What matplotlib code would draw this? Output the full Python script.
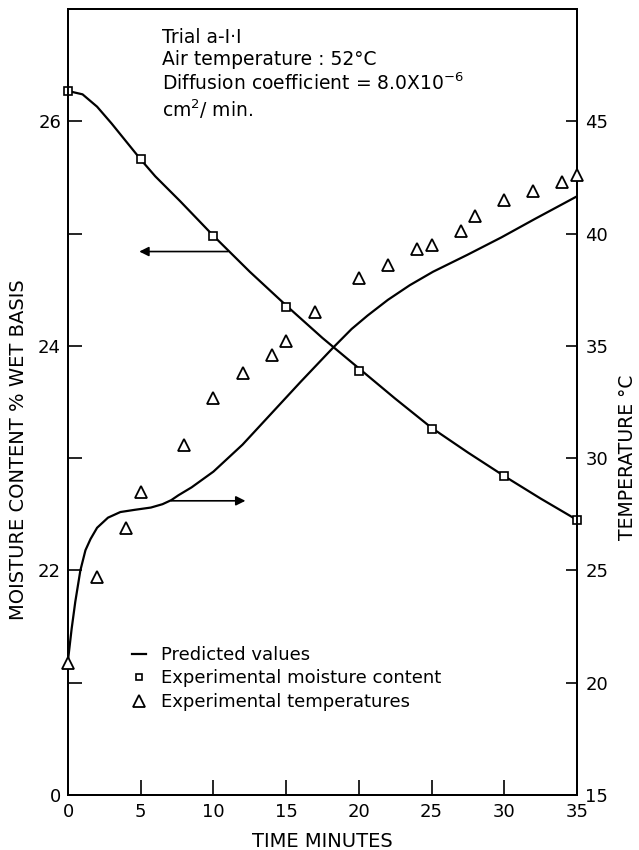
import matplotlib
matplotlib.use("Agg")
import matplotlib.pyplot as plt
from matplotlib.lines import Line2D

plt.rcParams['font.family'] = ['DejaVu Sans']

# Experimental moisture content (% wet basis) vs time (min)
moist_time = [0, 5, 10, 15, 20, 25, 30, 35]
moist_exp = [26.27, 25.66, 24.98, 24.35, 23.78, 23.26, 22.84, 22.45]

# Experimental temperatures (deg C) vs time (min)
temp_time = [0, 2, 4, 5, 8, 10, 12, 14, 15, 17, 20, 22, 24, 25, 27, 28, 30, 32, 34, 35]
temp_exp = [20.9, 24.7, 26.9, 28.5, 30.6, 32.7, 33.8, 34.6, 35.2, 36.5,
            38.0, 38.6, 39.3, 39.5, 40.1, 40.8, 41.5, 41.9, 42.3, 42.6]

# Predicted moisture content curve
pred_m_time = [0, 1, 2, 3, 4, 5, 6, 7.7, 10, 12.5, 15, 17.5, 20, 22.5,
               25, 27.5, 30, 32.5, 35]
pred_m = [26.27, 26.24, 26.13, 25.98, 25.82, 25.66, 25.51, 25.29, 24.98, 24.66,
          24.36, 24.07, 23.80, 23.53, 23.27, 23.05, 22.84, 22.64, 22.45]

# Predicted temperature curve
pred_t_time = [0, 0.25, 0.5, 0.85, 1.2, 1.55, 2.0, 2.75, 3.6, 4.6, 5.7, 6.5, 7.1,
               7.6, 8.5, 10, 12, 14, 16, 18.2, 19.5, 20.6, 22, 23.5, 25.1, 27.45,
               29.8, 32.1, 34.4, 35]
pred_t = [21.0, 22.4, 23.6, 25.0, 25.9, 26.4, 26.9, 27.35, 27.6, 27.7, 27.8,
          27.95, 28.13, 28.35, 28.7, 29.4, 30.6, 32.0, 33.4, 34.9, 35.75, 36.35,
          37.05, 37.7, 38.3, 39.05, 39.83, 40.65, 41.45, 41.66]

moist_ticks = [20, 21, 22, 23, 24, 25, 26]
moist_ticklabels = ['0', '', '22', '', '24', '', '26']
temp_ticks = [15, 20, 25, 30, 35, 40, 45]
time_ticks = [0, 5, 10, 15, 20, 25, 30, 35]

W, H = 639, 850
fig = plt.figure(figsize=(W / 100, H / 100), dpi=100)
ax = fig.add_axes([68 / W, 1 - 795 / H, (577 - 68) / W, (795 - 9) / H])
ax2 = ax.twinx()

lw = 1.6
ax.plot(pred_m_time, pred_m, color='k', lw=lw, zorder=3)
ax.plot(moist_time, moist_exp, ls='none', marker='s', ms=5.5, mfc='white',
        mec='k', mew=1.2, zorder=4, clip_on=False)
ax2.plot(pred_t_time, pred_t, color='k', lw=lw, zorder=3)
ax2.plot(temp_time, temp_exp, ls='none', marker='^', ms=9, mfc='white',
         mec='k', mew=1.3, zorder=4, clip_on=False)

ax.set_xlim(0, 35)
ax.set_ylim(20, 27)
ax2.set_ylim(15, 50)

ax.set_xticks(time_ticks)
ax.set_xticklabels([str(t) for t in time_ticks])
ax.set_yticks(moist_ticks)
ax.set_yticklabels(moist_ticklabels)
ax2.set_yticks(temp_ticks)
ax2.set_yticklabels([str(t) for t in temp_ticks])

ax.tick_params(axis='x', direction='in', length=11, width=1.2, labelsize=13, pad=6)
ax.tick_params(axis='y', direction='in', length=10, width=1.2, labelsize=13, pad=5)
ax2.tick_params(axis='y', direction='in', length=8, width=1.2, labelsize=13, pad=6)

for a in (ax, ax2):
    for s in a.spines.values():
        s.set_linewidth(1.4)

ax.set_xlabel('TIME MINUTES', fontsize=14, labelpad=8)
ax.set_ylabel('MOISTURE CONTENT % WET BASIS', fontsize=14)
ax.yaxis.set_label_coords(-0.078, 0.44)
ax2.set_ylabel('TEMPERATURE \u00b0C', fontsize=13.5)
ax2.yaxis.set_label_coords(1.08, 0.43)

# direction arrows pointing each curve to its axis
ax.annotate('', xy=(4.9, 24.84), xytext=(11.0, 24.84),
            arrowprops=dict(arrowstyle='-|>', color='k', lw=1.2,
                            mutation_scale=14, shrinkA=0, shrinkB=0))
ax2.annotate('', xy=(12.2, 28.1), xytext=(7.1, 28.1),
             arrowprops=dict(arrowstyle='-|>', color='k', lw=1.2,
                             mutation_scale=14, shrinkA=0, shrinkB=0))

# trial annotations
info = ['Trial a-I\u00b7I',
        'Air temperature : 52\u00b0C',
        'Diffusion coefficient = 8.0X10$^{-6}$',
        'cm$^{2}$/ min.']
for txt, yb in zip(info, [43, 65, 90, 117]):
    fig.text(162 / W, 1 - yb / H, txt, fontsize=13.5, va='baseline', ha='left')

handles = [Line2D([], [], color='k', lw=lw),
           Line2D([], [], ls='none', marker='s', ms=5, mfc='white', mec='k', mew=1.2),
           Line2D([], [], ls='none', marker='^', ms=9, mfc='white', mec='k', mew=1.3)]
labels = ['Predicted values', 'Experimental moisture content',
          'Experimental temperatures']
ax.legend(handles, labels, loc='upper left',
          bbox_to_anchor=(132 / W, 1 - 646 / H), bbox_transform=fig.transFigure,
          frameon=False, fontsize=13, handlelength=0.8, handletextpad=0.8,
          labelspacing=0.3, borderpad=0, borderaxespad=0)

fig.savefig('out.png', dpi=100, facecolor='white')
